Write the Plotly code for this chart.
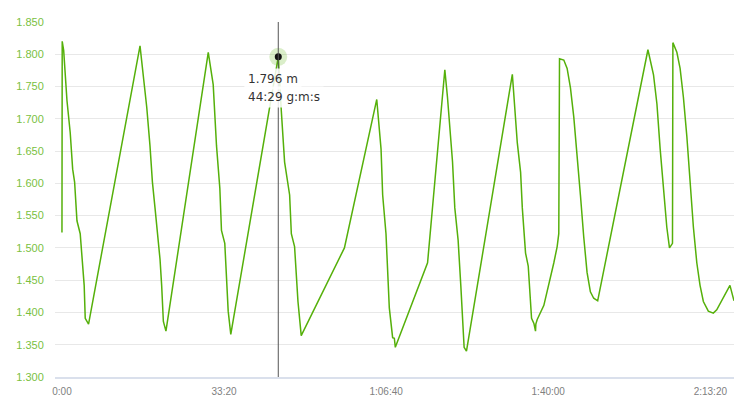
import plotly.graph_objects as go

# Elapsed time in seconds and measured value (m)
TIMES = [0, 3, 21, 62, 102, 132, 156, 185, 225, 255, 274, 287, 308, 328,
         963, 1025, 1046, 1086, 1116, 1148, 1181, 1210, 1230, 1251, 1283,
         1805, 1866, 1907, 1948, 1968, 2009, 2030, 2051, 2083,
         2669, 2706, 2747, 2809, 2830, 2870, 2912, 2952,
         3485, 3884, 3937, 3957, 3998, 4039, 4080, 4101, 4113,
         4511, 4724, 4757, 4819, 4847, 4888, 4921, 4962, 4991,
         5557, 5618, 5659, 5680, 5720, 5753, 5794, 5823, 5843, 5847,
         5864, 5946, 5987, 6028, 6069, 6110, 6130, 6139,
         6192, 6233, 6274, 6315, 6356, 6397, 6438, 6479, 6520, 6561, 6610,
         7230, 7299, 7341, 7381, 7422, 7463, 7496, 7533, 7538,
         7587, 7627, 7668, 7710, 7750, 7791, 7833, 7873, 7914, 7975, 8037, 8079, 8242, 8292]

VALUES = [1.524, 1.820, 1.806, 1.728, 1.678, 1.622, 1.602, 1.542, 1.522, 1.472, 1.442, 1.391, 1.386, 1.382,
          1.813, 1.743, 1.718, 1.658, 1.602, 1.562, 1.522, 1.482, 1.442, 1.386, 1.371,
          1.803, 1.753, 1.658, 1.592, 1.527, 1.507, 1.452, 1.402, 1.366,
          1.796, 1.713, 1.633, 1.582, 1.522, 1.502, 1.417, 1.364,
          1.500, 1.730, 1.653, 1.582, 1.522, 1.407, 1.361, 1.360, 1.346,
          1.477, 1.776, 1.733, 1.633, 1.562, 1.512, 1.442, 1.346, 1.340,
          1.769, 1.663, 1.617, 1.562, 1.492, 1.472, 1.391, 1.383, 1.371, 1.382,
          1.389, 1.411, 1.432, 1.457, 1.477, 1.502, 1.522, 1.793,
          1.791, 1.778, 1.748, 1.703, 1.648, 1.582, 1.517, 1.462, 1.432, 1.422, 1.418,
          1.807, 1.768, 1.723, 1.653, 1.592, 1.532, 1.500, 1.507, 1.818,
          1.803, 1.778, 1.733, 1.673, 1.602, 1.532, 1.477, 1.442, 1.417, 1.402, 1.399, 1.404, 1.442, 1.418]

X_TICKS = [0, 2000, 4000, 6000, 8000]
Y_TICKS = [1.30, 1.35, 1.40, 1.45, 1.50, 1.55, 1.60, 1.65, 1.70, 1.75, 1.80, 1.85]
HOVER_TIME = 2669


def fmt_time(s):
    h, rem = divmod(int(s), 3600)
    m, sec = divmod(rem, 60)
    if h:
        return f"{h}:{m:02d}:{sec:02d}"
    return f"{m}:{sec:02d}"


X_TICK_LABELS = [fmt_time(t) for t in X_TICKS]
Y_TICK_LABELS = [f"{v:.3f}" for v in Y_TICKS]

hi = TIMES.index(HOVER_TIME)
hx, hy = TIMES[hi], VALUES[hi]

LINE = "#55b00a"

fig = go.Figure()
fig.add_trace(go.Scatter(x=TIMES, y=VALUES, mode="lines",
                         line=dict(color=LINE, width=1.5), hoverinfo="skip"))
# halo + dot
fig.add_trace(go.Scatter(x=[hx], y=[hy], mode="markers",
                         marker=dict(size=18, color="rgba(85,176,10,0.22)", line=dict(width=0)),
                         hoverinfo="skip"))
fig.add_trace(go.Scatter(x=[hx], y=[hy], mode="markers",
                         marker=dict(size=7, color="#111111", line=dict(width=0)),
                         hoverinfo="skip"))

fig.add_shape(type="line", xref="x", yref="paper", x0=hx, x1=hx, y0=0, y1=1,
              line=dict(color="#555555", width=1), layer="above")

TIP_FONT = dict(family="DejaVu Sans", size=12, color="#333333")
for txt, dy in [(f"{hy:.3f} m", -22), (f"{fmt_time(hx)} g:m:s", -40)]:
    fig.add_annotation(x=hx, y=hy, xref="x", yref="y", xanchor="left", yanchor="middle",
                       xshift=-34, yshift=dy, showarrow=False, align="left",
                       text=txt, font=TIP_FONT,
                       bgcolor="rgba(255,255,255,0.85)", borderpad=3)

# page body has an 8px default margin; size the figure to fit inside it
fig.update_layout(
    width=740, height=397,
    margin=dict(l=45, r=14, t=8, b=25),
    paper_bgcolor="white", plot_bgcolor="white",
    showlegend=False,
    xaxis=dict(range=[-86, 8292], tickvals=X_TICKS, ticktext=X_TICK_LABELS,
               showgrid=False, zeroline=False, showline=True,
               linecolor="#dae0ec", linewidth=2,
               ticks="outside", ticklen=4, tickcolor="rgba(0,0,0,0)",
               tickfont=dict(family="Liberation Sans", size=10, color="#808080")),
    yaxis=dict(range=[1.3, 1.85], tickvals=Y_TICKS, ticktext=Y_TICK_LABELS,
               showgrid=True, gridcolor="#e8e8e8", gridwidth=1, zeroline=False,
               ticks="outside", ticklen=8, tickcolor="rgba(0,0,0,0)",
               tickfont=dict(family="Liberation Sans", size=11, color="#7abf3f")),
)

fig.write_html("out.html")
